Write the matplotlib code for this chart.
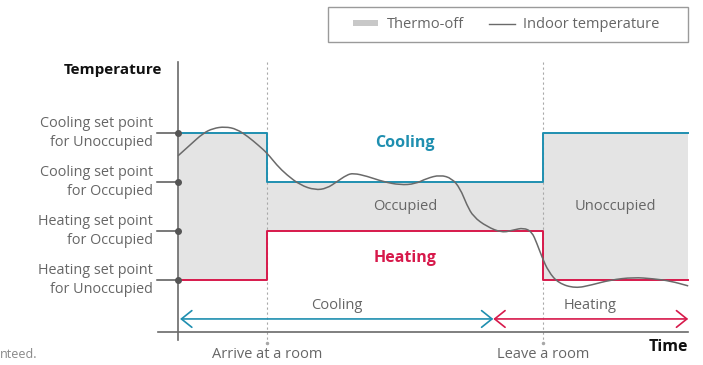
import matplotlib
matplotlib.use("Agg")
import matplotlib.pyplot as plt
from matplotlib.patches import Patch, Rectangle, PathPatch
from matplotlib.lines import Line2D
from matplotlib.path import Path

plt.rcParams['font.family'] = ['Open Sans', 'DejaVu Sans']

# horario: inicio, llegada, salida, fin
t_horario = [0.0, 1.745, 7.157, 10.0]
consigna_frio = [28, 26, 28, 28]      # consigna de refrigeración
consigna_calor = [22, 24, 22, 22]     # consigna de calefacción

niveles = [28, 26, 24, 22]
etiquetas_niveles = ["Cooling set point\nfor Unoccupied",
                     "Cooling set point\nfor Occupied",
                     "Heating set point\nfor Occupied",
                     "Heating set point\nfor Unoccupied"]

# temperatura interior
t_interior = [0.0, 0.235, 0.49, 0.686, 0.922, 1.151, 1.373, 1.569, 1.751, 1.935,
              2.131, 2.392, 2.686, 2.916, 3.112, 3.308, 3.437, 3.70, 4.025, 4.353,
              4.647, 4.876, 5.137, 5.367, 5.529, 5.661, 5.790, 6.053, 6.347, 6.575,
              6.771, 6.935, 7.033, 7.131, 7.261, 7.457, 7.784, 8.112, 8.471, 8.927,
              9.320, 9.647, 10.0]
temp_interior = [27.07, 27.51, 27.99, 28.19, 28.26, 28.16, 27.85, 27.51, 27.17, 26.69,
                 26.29, 25.88, 25.67, 25.74, 26.01, 26.29, 26.36, 26.24, 26.01, 25.88,
                 25.92, 26.15, 26.29, 26.15, 25.74, 25.06, 24.58, 24.18, 23.93, 24.04,
                 24.13, 23.97, 23.50, 22.95, 22.34, 21.87, 21.66, 21.80, 22.00, 22.11,
                 22.05, 21.96, 21.76]

azul = "#1f8fb0"
rojo = "#d7194b"
gris = "#6a6a6a"
gris_texto = "#666666"

fig = plt.figure(figsize=(7.03, 3.65), dpi=100)
ax = fig.add_axes([0, 0, 1, 1])
ax.set_xlim(-3.49, 10.29)
ax.set_ylim(18.53, 33.43)
ax.axis('off')

llegada = t_horario[1]
salida = t_horario[2]
fin = t_horario[-1]

# zona thermo-off
ax.fill_between(t_horario, consigna_calor, consigna_frio, step='post',
                color="#e4e4e4", lw=0, zorder=1)

# líneas verticales punteadas
for tv in [llegada, salida]:
    ax.plot([tv, tv], [30.9, 19.55], color="#a8a8a8", lw=0.8, ls=(0, (2, 2.5)), zorder=2)
    ax.plot([tv], [19.43], marker='o', ms=1.5, color="#a8a8a8", zorder=2)

# consignas
ax.step(t_horario, consigna_frio, where='post', color=azul, lw=1.4, zorder=3)
ax.step(t_horario, consigna_calor, where='post', color=rojo, lw=1.4, zorder=3)

# temperatura interior, suavizada con curvas cuadráticas entre puntos medios
puntos = list(zip(t_interior, temp_interior))
verts = [puntos[0]]
codes = [Path.MOVETO]
for i in range(1, len(puntos) - 1):
    medio_pt = ((puntos[i][0] + puntos[i + 1][0]) / 2, (puntos[i][1] + puntos[i + 1][1]) / 2)
    verts += [puntos[i], medio_pt]
    codes += [Path.CURVE3, Path.CURVE3]
verts.append(puntos[-1])
codes.append(Path.LINETO)
ax.add_patch(PathPatch(Path(verts, codes), facecolor='none', edgecolor=gris,
                       lw=1.1, zorder=4))

# ejes
ax.plot([0, 0], [30.9, 19.55], color=gris, lw=1.2, zorder=5)
ax.plot([-0.39, fin], [19.88, 19.88], color=gris, lw=1.2, zorder=5)
for nivel, etiqueta in zip(niveles, etiquetas_niveles):
    ax.plot([-0.41, 0], [nivel, nivel], color="#555555", lw=1.1, zorder=5)
    ax.plot([0], [nivel], marker='o', ms=4, color="#555555", zorder=6)
    ax.text(-0.49, nivel, etiqueta, ha='right', va='center', fontsize=10.4,
            color=gris_texto, linespacing=1.42)

ax.text(-0.314, 30.57, "Temperature", ha='right', va='center', fontsize=11,
        fontweight='bold', color="#111111")
ax.text(fin, 19.27, "Time", ha='right', va='center', fontsize=11.5,
        fontweight='bold', color="#111111")

ax.text(4.45, 27.59, "Cooling", ha='center', va='center', fontsize=11.5,
        fontweight='bold', color=azul)
ax.text(4.45, 22.9, "Heating", ha='center', va='center', fontsize=11.5,
        fontweight='bold', color=rojo)
ax.text(4.45, 24.98, "Occupied", ha='center', va='center', fontsize=10.5, color=gris_texto)
ax.text(8.57, 24.98, "Unoccupied", ha='center', va='center', fontsize=10.5, color=gris_texto)

# flechas de modo
medio = 6.18
y_flecha = 20.41
estilo = '<->,head_length=0.75,head_width=0.6'
ax.annotate("", xy=(0.04, y_flecha), xytext=(medio, y_flecha),
            arrowprops=dict(arrowstyle=estilo, color=azul, lw=1.2,
                            shrinkA=0, shrinkB=0, mutation_scale=10))
ax.annotate("", xy=(medio, y_flecha), xytext=(fin, y_flecha),
            arrowprops=dict(arrowstyle=estilo, color=rojo, lw=1.2,
                            shrinkA=0, shrinkB=0, mutation_scale=10))
ax.text(3.12, 20.94, "Cooling", ha='center', va='center', fontsize=10.5, color=gris_texto)
ax.text(8.08, 20.94, "Heating", ha='center', va='center', fontsize=10.5, color=gris_texto)

ax.text(llegada, 18.94, "Arrive at a room", ha='center', va='center', fontsize=10.5, color=gris_texto)
ax.text(salida, 18.94, "Leave a room", ha='center', va='center', fontsize=10.5, color=gris_texto)
ax.text(-3.49, 18.94, "nteed.", ha='left', va='center', fontsize=9, color="#888888")

# leyenda con marco propio
marco = Rectangle((328 / 703, 1 - 42 / 365), 360 / 703, 35 / 365, transform=fig.transFigure,
                  facecolor='none', edgecolor="#9a9a9a", lw=1.0, zorder=10)
fig.patches.append(marco)
manejadores = [Patch(facecolor="#c8c8c8", edgecolor='none', label="Thermo-off"),
               Line2D([0], [0], color=gris, lw=1.0, label="Indoor temperature")]
leg = ax.legend(handles=manejadores, ncol=2, loc='center',
                bbox_to_anchor=(506 / 703, 1 - 24.5 / 365), bbox_transform=fig.transFigure,
                frameon=False, fontsize=10.5, handlelength=1.75,
                handleheight=0.3, columnspacing=1.75, borderpad=0,
                borderaxespad=0, handletextpad=0.55)
for txt in leg.get_texts():
    txt.set_color(gris_texto)

fig.savefig("out.png", dpi=100)
